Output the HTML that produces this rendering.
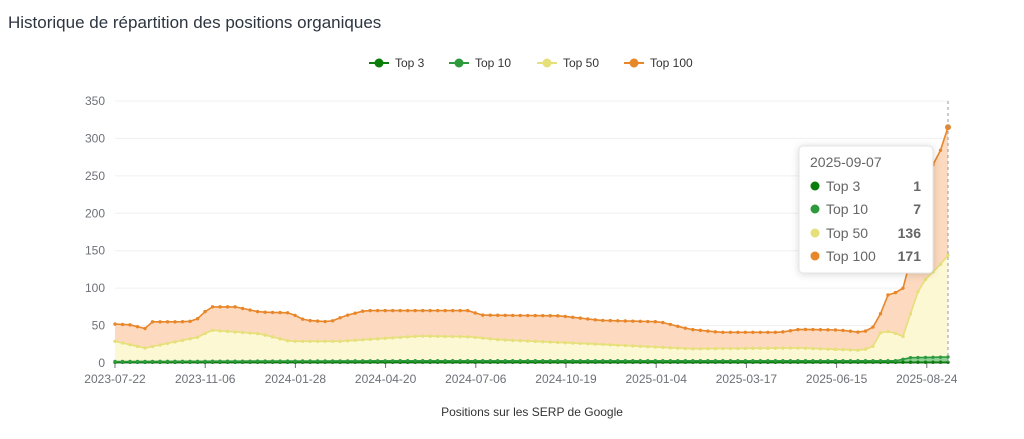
<!DOCTYPE html>
<html><head><meta charset="utf-8">
<style>
body{margin:0;background:#fff;width:1024px;height:434px;overflow:hidden;font-family:"Liberation Sans",sans-serif;}
</style></head>
<body>
<svg id="c" width="1024" height="434" xmlns="http://www.w3.org/2000/svg" font-family="Liberation Sans, sans-serif">
<text x="8" y="28" font-size="17" fill="#2c3540">Historique de répartition des positions organiques</text>
<g font-size="12" fill="#333">
<line x1="369" y1="63" x2="389" y2="63" stroke="#0a7d0a" stroke-width="2"/><circle cx="379" cy="63" r="4.5" fill="#0a7d0a"/><text x="395" y="67">Top 3</text>
<line x1="449" y1="63" x2="469" y2="63" stroke="#2e9a3e" stroke-width="2"/><circle cx="459" cy="63" r="4.5" fill="#2e9a3e"/><text x="475" y="67">Top 10</text>
<line x1="537" y1="63" x2="557" y2="63" stroke="#e6e07a" stroke-width="2"/><circle cx="547" cy="63" r="4.5" fill="#e6e07a"/><text x="563" y="67">Top 50</text>
<line x1="624" y1="63" x2="644" y2="63" stroke="#e8862a" stroke-width="2"/><circle cx="634" cy="63" r="4.5" fill="#e8862a"/><text x="650" y="67">Top 100</text>
</g>
<g id="grid"></g>
<g id="series"></g>
<text x="532" y="416" font-size="12" fill="#333" text-anchor="middle">Positions sur les SERP de Google</text>
<line x1="948" y1="101" x2="948" y2="363" stroke="#999" stroke-dasharray="3,3" stroke-width="1"/>
<g>
<rect x="799" y="146" width="134" height="127" rx="4" fill="#fff" stroke="#e4e4e4" filter="drop-shadow(0 1px 4px rgba(0,0,0,0.15))"/>
<text x="810" y="167" font-size="14" fill="#666">2025-09-07</text>
<g font-size="14" fill="#666">
<circle cx="815" cy="186" r="4.5" fill="#0a7d0a"/><text x="826" y="191">Top 3</text><text x="921" y="191" text-anchor="end" font-weight="bold">1</text>
<circle cx="815" cy="209" r="4.5" fill="#2e9a3e"/><text x="826" y="214">Top 10</text><text x="921" y="214" text-anchor="end" font-weight="bold">7</text>
<circle cx="815" cy="233" r="4.5" fill="#e6e07a"/><text x="826" y="238">Top 50</text><text x="921" y="238" text-anchor="end" font-weight="bold">136</text>
<circle cx="815" cy="256" r="4.5" fill="#e8862a"/><text x="826" y="261">Top 100</text><text x="921" y="261" text-anchor="end" font-weight="bold">171</text>
</g></g>
</svg>
<script>
var NS="http://www.w3.org/2000/svg";
function el(t,a,p){var e=document.createElementNS(NS,t);for(var k in a)e.setAttribute(k,a[k]);p.appendChild(e);return e;}
var g=document.getElementById('grid'),s=document.getElementById('series');
var x0=115,x1=948,y0=363,k=0.7486;
function Y(v){return y0-v*k;}
for(var v=0;v<=350;v+=50){
 if(v>0)el('line',{x1:x0,x2:x1,y1:Y(v),y2:Y(v),stroke:'#f0f0f0'},g);
 var t=el('text',{x:105,y:Y(v)+4,'font-size':12,fill:'#6e7079','text-anchor':'end'},g);t.textContent=v;
}
el('line',{x1:x0,x2:x1,y1:y0,y2:y0,stroke:'#6e7079'},g);
var labs=['2023-07-22','2023-11-06','2024-01-28','2024-04-20','2024-07-06','2024-10-19','2025-01-04','2025-03-17','2025-06-15','2025-08-24'];
for(var i=0;i<10;i++){var x=115+i*90.2;el('line',{x1:x,x2:x,y1:y0,y2:y0+5,stroke:'#6e7079'},g);
 var t=el('text',{x:x,y:383,'font-size':12,fill:'#6e7079','text-anchor':'middle'},g);t.textContent=labs[i];}
var N=112,dx=(x1-x0)/(N-1);
function interp(kf,x){for(var i=0;i<kf.length-1;i++){if(x>=kf[i][0]&&x<=kf[i+1][0]){var f=(x-kf[i][0])/(kf[i+1][0]-kf[i][0]);return kf[i][1]+f*(kf[i+1][1]-kf[i][1]);}}return kf[kf.length-1][1];}
var t100=[[115,52],[130,51],[145,46],[152,55],[180,55],[195,56],[203,66],[210,75],[235,75],[260,68],[290,67],[305,57],[330,55],[345,63],[365,70],[400,70],[420,70],[470,70],[480,64],[560,63],[600,57],[660,55],[690,45],[720,41],[780,41],[800,45],[840,44],[860,41],[870,44],[878,55],[886,90],[900,96],[906,104],[912,150],[925,225],[935,275],[941,285],[948,315]];
var t50=[[115,29],[145,20],[200,35],[210,44],[260,39],[290,29],[340,29],[420,36],[470,35],[500,31],[600,25],[690,19],[800,20],[860,17],[872,20],[882,44],[900,38],[906,33],[913,84],[925,111],[940,131],[948,144]];
var t10=[[115,2],[400,3],[900,3],[906,7],[948,8]];
var t3=[[115,1],[948,1]];
function pts(kf){var a=[];for(var i=0;i<N;i++){var x=x0+i*dx;a.push([x,Y(interp(kf,x))]);}return a;}
var P100=pts(t100),P50=pts(t50),P10=pts(t10),P3=pts(t3);
function area(top,bot,fill){var d='M'+top.map(p=>p[0].toFixed(1)+','+p[1].toFixed(1)).join('L');
 d+='L'+bot.slice().reverse().map(p=>p[0].toFixed(1)+','+p[1].toFixed(1)).join('L')+'Z';el('path',{d:d,fill:fill},s);}
var base=P3.map(p=>[p[0],y0]);
area(P100,P50,'#fcd9bf');area(P50,P10,'#fdf8d4');area(P10,P3,'#8fcf95');area(P3,base,'#7fbf7f');
function line(P,c,r){el('polyline',{points:P.map(p=>p[0].toFixed(1)+','+p[1].toFixed(1)).join(' '),fill:'none',stroke:c,'stroke-width':1.6},s);
 P.forEach(p=>el('circle',{cx:p[0],cy:p[1],r:r,fill:c},s));}
line(P3,'#0a7d0a',1.7);line(P10,'#2e9a3e',1.7);line(P50,'#e6e07a',1.7);line(P100,'#e8862a',1.7);
el('circle',{cx:948,cy:Y(315),r:3,fill:'#e8862a'},s);
</script>
</body></html>
